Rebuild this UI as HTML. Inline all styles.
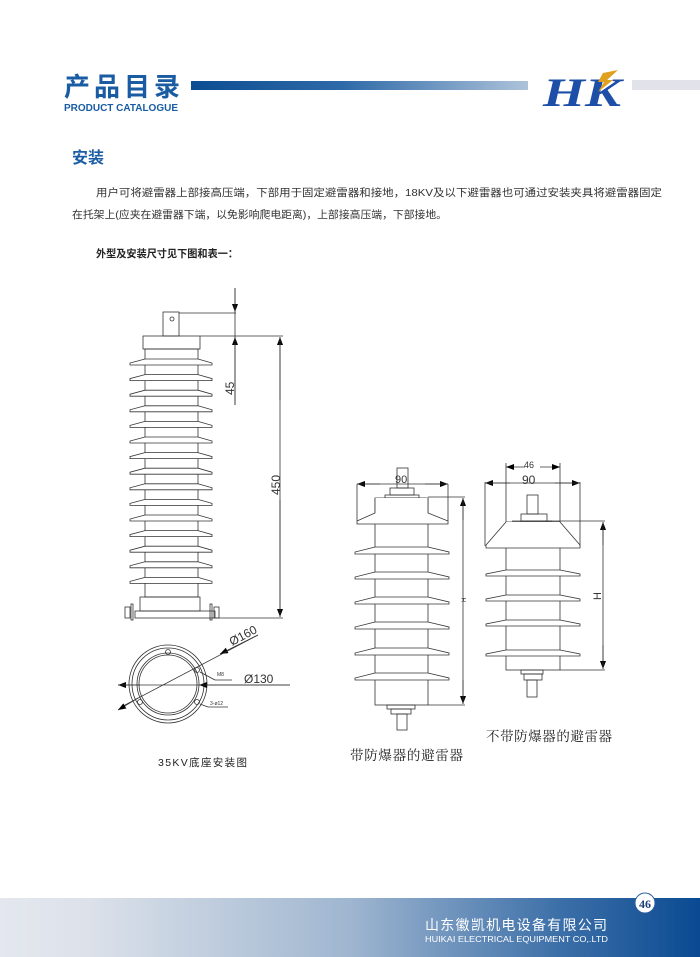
<!DOCTYPE html>
<html><head><meta charset="utf-8">
<style>
html,body{margin:0;padding:0;background:#fff;}
svg{display:block;}
.t{font-family:"Liberation Sans","Noto Sans CJK SC",sans-serif;}
.s{font-family:"Liberation Serif","Noto Serif CJK SC",serif;}
</style></head><body>
<svg id="sv" width="700" height="957" viewBox="0 0 700 957" xmlns="http://www.w3.org/2000/svg">
<defs>
<linearGradient id="hb" x1="0" x2="1"><stop offset="0" stop-color="#0c4d92"/><stop offset="0.45" stop-color="#2e6aa8"/><stop offset="1" stop-color="#aec3da"/></linearGradient>
<linearGradient id="fb" x1="0" x2="1"><stop offset="0" stop-color="#e4e7ee"/><stop offset="0.12" stop-color="#dde2ea"/><stop offset="0.5" stop-color="#9fb6d0"/><stop offset="0.8" stop-color="#3c6fa8"/><stop offset="1" stop-color="#0a4a92"/></linearGradient>
<marker id="ar" markerWidth="8" markerHeight="6" refX="8" refY="3" orient="auto" markerUnits="userSpaceOnUse"><path d="M0,0L8,3L0,6Z" fill="#000"/></marker>
</defs>
<rect width="700" height="957" fill="#fff"/>
<!-- header -->
<text x="64" y="96" class="t" font-size="26" font-weight="bold" fill="#1a5ca3" textLength="116">产品目录</text>
<text x="64" y="111" class="t" font-size="10" font-weight="bold" fill="#1a5ca3" textLength="114" lengthAdjust="spacingAndGlyphs">PRODUCT CATALOGUE</text>
<rect x="191" y="81" width="337" height="9" fill="url(#hb)"/>
<rect x="632" y="80" width="68" height="10" fill="#e2e3ea"/>
<text x="543" y="106" font-family="Liberation Serif,serif" font-style="italic" font-weight="bold" font-size="40" fill="#1d4fa8" textLength="78" lengthAdjust="spacingAndGlyphs">HK</text>
<path d="M603,73 L618,70 L607,80 L613,80 L598,92 L604,82 L598,82 Z" fill="#e0a020"/>
<!-- text -->
<text x="72" y="163" class="t" font-size="16" font-weight="bold" fill="#1c5ea5">安装</text>
<text x="96" y="196" class="t" font-size="10.5" fill="#333" textLength="566" lengthAdjust="spacingAndGlyphs">用户可将避雷器上部接高压端，下部用于固定避雷器和接地，18KV及以下避雷器也可通过安装夹具将避雷器固定</text>
<text x="72" y="218" class="t" font-size="10.5" fill="#333" textLength="375" lengthAdjust="spacingAndGlyphs">在托架上(应夹在避雷器下端，以免影响爬电距离)，上部接高压端，下部接地。</text>
<text x="96" y="257" class="t" font-size="10.5" fill="#222" font-weight="bold" textLength="142" lengthAdjust="spacingAndGlyphs">外型及安装尺寸见下图和表一：</text>
<g id="draw" fill="none" stroke="#333" stroke-width="0.8"></g>
<!-- captions -->
<text x="158" y="766" class="t" font-size="10.5" fill="#222" textLength="89">35KV底座安装图</text>
<text x="350" y="760" class="s" font-size="13.5" fill="#222" textLength="113">带防爆器的避雷器</text>
<text x="486" y="741" class="s" font-size="13.5" fill="#222" textLength="126">不带防爆器的避雷器</text>
<!-- dim texts -->
<text transform="translate(234,395) rotate(-90)" class="t" font-size="12" fill="#333">45</text>
<text transform="translate(280,495) rotate(-90)" class="t" font-size="12" fill="#333">450</text>
<text transform="translate(232,646) rotate(-28)" class="t" font-size="12" fill="#333">Ø160</text>
<text x="244" y="683" class="t" font-size="12" fill="#333">Ø130</text>
<text x="217" y="676" class="t" font-size="5" fill="#333">M8</text>
<text x="210" y="705" class="t" font-size="5" fill="#333">3-ø12</text>
<text x="395" y="483" class="t" font-size="11" fill="#333">90</text>
<text x="524" y="468" class="t" font-size="9" fill="#333">46</text>
<text x="522" y="484" class="t" font-size="12" fill="#333">90</text>
<text transform="translate(466,602) rotate(-90)" class="t" font-size="6" fill="#333">H</text>
<text transform="translate(601,600) rotate(-90)" class="t" font-size="11" fill="#333">H</text>
<!-- footer -->
<rect x="0" y="898" width="700" height="59" fill="url(#fb)"/>
<circle cx="645" cy="903" r="10" fill="#fff" stroke="#2a5c9c" stroke-width="1"/>
<text x="645" y="908" text-anchor="middle" font-family="Liberation Serif,serif" font-weight="bold" font-size="12" fill="#1d3f7a">46</text>
<text x="425" y="930" class="t" font-size="14" fill="#fff" textLength="182">山东徽凯机电设备有限公司</text>
<text x="425" y="942" class="t" font-size="8" fill="#fff" textLength="183" lengthAdjust="spacingAndGlyphs">HUIKAI ELECTRICAL EQUIPMENT CO,.LTD</text>
</svg>
<script>
var g=document.getElementById('draw'),h='';
function L(a,b,c,d,m){h+='<line x1="'+a+'" y1="'+b+'" x2="'+c+'" y2="'+d+'"'+(m?' marker-end="url(#ar)"':'')+'/>';}
function R(x,y,w,hh){h+='<rect x="'+x+'" y="'+y+'" width="'+w+'" height="'+hh+'"/>';}
function shed(l,r,ol,or,y,dy){h+='<path d="M'+l+','+y+' L'+r+','+y+' L'+or+','+(y+dy)+' L'+or+','+(y+dy+2)+' L'+ol+','+(y+dy+2)+' L'+ol+','+(y+dy)+' Z" fill="#fff"/>';}
// left arrester
R(163,312,16,24);h+='<circle cx="172" cy="319" r="2"/>';
R(143,336,57,13);
R(145,349,53,248);
for(var i=0;i<15;i++){shed(145,198,130,212,359+i*15.6,4);}
R(140,597,60,14);R(135,611,80,7);
R(125,607,5,11);R(131,604,2,16);R(210,604,2,16);R(214,607,5,11);
L(179,313,236,313);L(200,336,283,336);L(215,618,283,618);
L(235,288,235,312,1);L(235,405,235,337,1);L(235,288,235,405);
L(280,400,280,337,1);L(280,500,280,617,1);L(280,337,280,617);
// circle
h+='<circle cx="168" cy="684" r="39"/><circle cx="168" cy="684" r="36"/><circle cx="168" cy="684" r="31"/><circle cx="168" cy="684" r="29"/>';
h+='<circle cx="168" cy="652" r="2.5"/><circle cx="197" cy="670" r="2.5"/><circle cx="140" cy="702" r="2.5"/><circle cx="197" cy="702" r="2.5"/>';
L(140,685,118,685,1);L(290,685,199,685,1);L(118,685,290,685);
L(258,635,220,654,1);L(121,707,125,705);L(138,698,118,710,1);L(125,705,258,635);
L(200,672,215,680);L(215,680,232,680);L(200,704,208,707);L(208,707,228,707);
// middle arrester
R(397,468,11,20);R(390,488,24,7);R(385,495,34,3);
R(375,498,53,207);
h+='<path d="M375,498 L375,513 L357,521 L357,524 L448,524 L448,521 L428,513 L428,498" fill="#fff"/>';
[547,572,597,622,648,673].forEach(function(y){shed(375,428,355,449,y,5);});
L(357,484,357,521);L(448,484,448,521);
L(380,484,357,484,1);L(425,484,448,484,1);L(357,484,448,484);
L(428,497,465,497);L(428,705,465,705);
L(463,520,463,498,1);L(463,680,463,704,1);L(463,498,463,704);
R(387,705,28,4);R(391,709,20,5);R(397,714,10,16);
// right arrester
R(506,522,54,148);
R(527,495,11,19);R(521,514,26,7);h+='<line x1="512" y1="521" x2="552" y2="521"/>';
h+='<path d="M506,522 L486,545 L486,548 L580,548 L580,545 L560,522" fill="#fff"/>';
[570,595,620,650].forEach(function(y){shed(506,560,486,580,y,4);});
L(506,463,506,522);L(560,463,560,522);L(485,482,485,546);L(580,482,580,546);
L(525,467,506,467,1);L(540,467,560,467,1);
L(510,483,485,483,1);L(555,483,580,483,1);L(485,483,580,483);
L(545,521,605,521);L(560,670,605,670);
L(603,545,603,522,1);L(603,645,603,669,1);L(603,522,603,669);
R(521,670,22,4);R(524,674,18,6);R(527,680,10,17);
g.innerHTML=h;
</script>
</body></html>
